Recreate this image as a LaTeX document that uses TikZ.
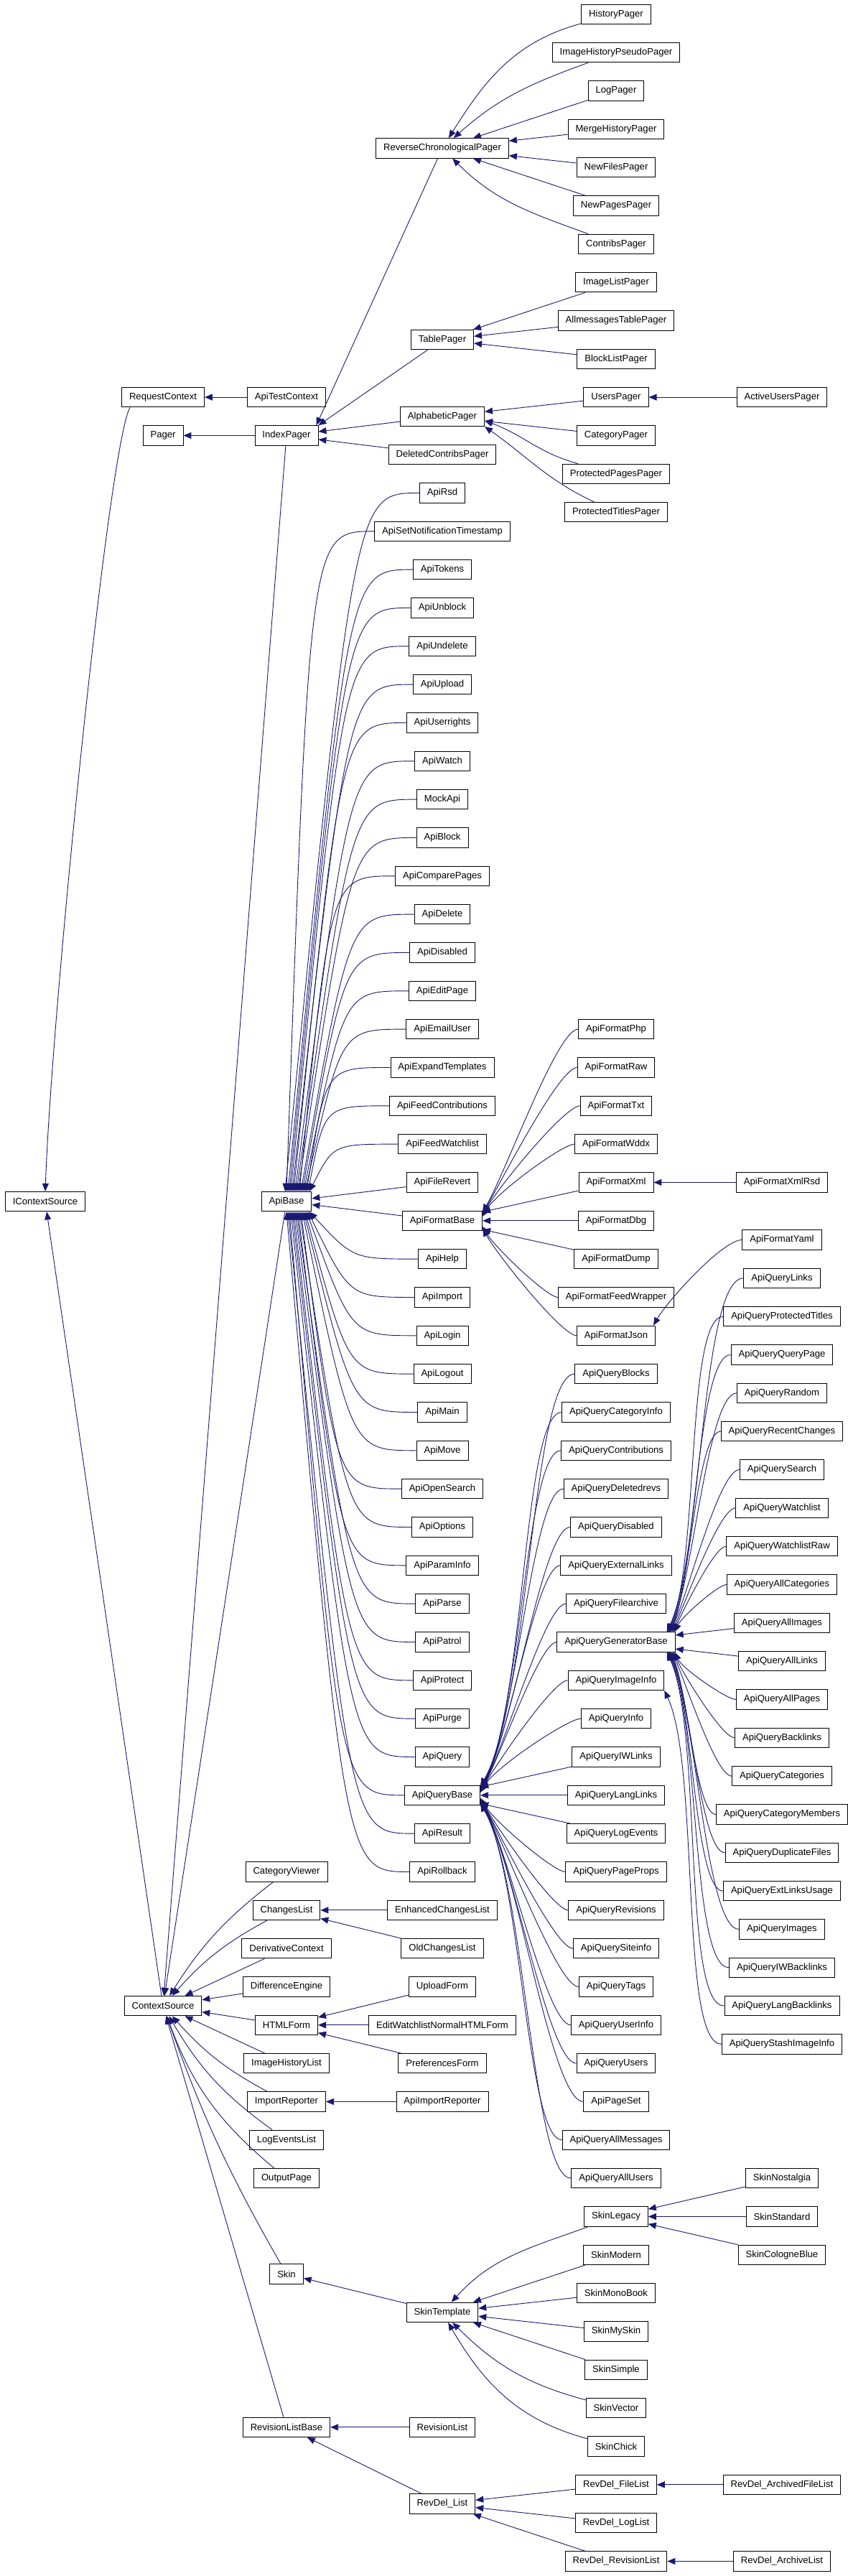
\documentclass[tikz,border=0pt]{standalone}
\usepackage{fontspec}
\setmainfont{Liberation Sans}
\usepackage{tikz}
\usetikzlibrary{arrows.meta}

\definecolor{edgeblue}{HTML}{191970}
\newcommand{\clsfont}{\fontsize{3.275pt}{3.75pt}\selectfont}

\tikzset{
  cls/.style={draw=black, fill=white, line width=0.225pt, minimum height=6.875pt, inner xsep=2.625pt, inner ysep=0.5pt, font=\clsfont},
  inh/.style={draw=edgeblue, line width=0.225pt, -{Triangle[length=2.75pt,width=2.25pt]}},
  qfan/.style={out=180, in=60, out looseness=0.26, in looseness=0.6},
  qfanb/.style={out=180, in=-60, out looseness=0.26, in looseness=0.6},
  gfan/.style={out=180, in=65, out looseness=0.3, in looseness=0.6},
  gfanb/.style={out=180, in=-65, out looseness=0.3, in looseness=0.6}
}

\begin{document}
\begin{tikzpicture}[x=0.25pt, y=6.66675pt]
  \useasboundingbox[fill=white] (0,0.7425) rectangle (1181,-133.77);

  % roots
  \node[cls] (IContextSource) at (63,-62) {IContextSource};
  \node[cls] (RequestContext) at (227,-20) {RequestContext};
  \node[cls] (Pager) at (227,-22) {Pager};
  \node[cls] (ContextSource) at (227,-104) {ContextSource};

  % second rank
  \node[cls] (ApiTestContext) at (399,-20) {ApiTestContext};
  \node[cls] (IndexPager) at (399,-22) {IndexPager};
  \node[cls] (ApiBase) at (399,-62) {ApiBase};
  \node[cls] (CategoryViewer) at (399,-97) {CategoryViewer};
  \node[cls] (ChangesList) at (399,-99) {ChangesList};
  \node[cls] (DerivativeContext) at (399,-101) {DerivativeContext};
  \node[cls] (DifferenceEngine) at (399,-103) {DifferenceEngine};
  \node[cls] (HTMLForm) at (399,-105) {HTMLForm};
  \node[cls] (ImageHistoryList) at (399,-107) {ImageHistoryList};
  \node[cls] (ImportReporter) at (399,-109) {ImportReporter};
  \node[cls] (LogEventsList) at (399,-111) {LogEventsList};
  \node[cls] (OutputPage) at (399,-113) {OutputPage};
  \node[cls] (Skin) at (399,-118) {Skin};
  \node[cls] (RevisionListBase) at (399,-126) {RevisionListBase};

  % third rank
  \node[cls] (ReverseChronologicalPager) at (616,-7) {ReverseChronologicalPager};
  \node[cls] (TablePager) at (616,-17) {TablePager};
  \node[cls] (AlphabeticPager) at (616,-21) {AlphabeticPager};
  \node[cls] (DeletedContribsPager) at (616,-23) {DeletedContribsPager};
  \node[cls] (ApiRsd) at (616,-25) {ApiRsd};
  \node[cls] (ApiSetNotificationTimestamp) at (616,-27) {ApiSetNotificationTimestamp};
  \node[cls] (ApiTokens) at (616,-29) {ApiTokens};
  \node[cls] (ApiUnblock) at (616,-31) {ApiUnblock};
  \node[cls] (ApiUndelete) at (616,-33) {ApiUndelete};
  \node[cls] (ApiUpload) at (616,-35) {ApiUpload};
  \node[cls] (ApiUserrights) at (616,-37) {ApiUserrights};
  \node[cls] (ApiWatch) at (616,-39) {ApiWatch};
  \node[cls] (MockApi) at (616,-41) {MockApi};
  \node[cls] (ApiBlock) at (616,-43) {ApiBlock};
  \node[cls] (ApiComparePages) at (616,-45) {ApiComparePages};
  \node[cls] (ApiDelete) at (616,-47) {ApiDelete};
  \node[cls] (ApiDisabled) at (616,-49) {ApiDisabled};
  \node[cls] (ApiEditPage) at (616,-51) {ApiEditPage};
  \node[cls] (ApiEmailUser) at (616,-53) {ApiEmailUser};
  \node[cls] (ApiExpandTemplates) at (616,-55) {ApiExpandTemplates};
  \node[cls] (ApiFeedContributions) at (616,-57) {ApiFeedContributions};
  \node[cls] (ApiFeedWatchlist) at (616,-59) {ApiFeedWatchlist};
  \node[cls] (ApiFileRevert) at (616,-61) {ApiFileRevert};
  \node[cls] (ApiFormatBase) at (616,-63) {ApiFormatBase};
  \node[cls] (ApiHelp) at (616,-65) {ApiHelp};
  \node[cls] (ApiImport) at (616,-67) {ApiImport};
  \node[cls] (ApiLogin) at (616,-69) {ApiLogin};
  \node[cls] (ApiLogout) at (616,-71) {ApiLogout};
  \node[cls] (ApiMain) at (616,-73) {ApiMain};
  \node[cls] (ApiMove) at (616,-75) {ApiMove};
  \node[cls] (ApiOpenSearch) at (616,-77) {ApiOpenSearch};
  \node[cls] (ApiOptions) at (616,-79) {ApiOptions};
  \node[cls] (ApiParamInfo) at (616,-81) {ApiParamInfo};
  \node[cls] (ApiParse) at (616,-83) {ApiParse};
  \node[cls] (ApiPatrol) at (616,-85) {ApiPatrol};
  \node[cls] (ApiProtect) at (616,-87) {ApiProtect};
  \node[cls] (ApiPurge) at (616,-89) {ApiPurge};
  \node[cls] (ApiQuery) at (616,-91) {ApiQuery};
  \node[cls] (ApiQueryBase) at (616,-93) {ApiQueryBase};
  \node[cls] (ApiResult) at (616,-95) {ApiResult};
  \node[cls] (ApiRollback) at (616,-97) {ApiRollback};
  \node[cls] (EnhancedChangesList) at (616,-99) {EnhancedChangesList};
  \node[cls] (OldChangesList) at (616,-101) {OldChangesList};
  \node[cls] (UploadForm) at (616,-103) {UploadForm};
  \node[cls] (EditWatchlistNormalHTMLForm) at (616,-105) {EditWatchlistNormalHTMLForm};
  \node[cls] (PreferencesForm) at (616,-107) {PreferencesForm};
  \node[cls] (ApiImportReporter) at (616,-109) {ApiImportReporter};
  \node[cls] (SkinTemplate) at (616,-120) {SkinTemplate};
  \node[cls] (RevisionList) at (616,-126) {RevisionList};
  \node[cls] (RevDelList) at (616,-130) {RevDel\_List};

  % fourth rank
  \node[cls] (HistoryPager) at (858,0) {HistoryPager};
  \node[cls] (ImageHistoryPseudoPager) at (858,-2) {ImageHistoryPseudoPager};
  \node[cls] (LogPager) at (858,-4) {LogPager};
  \node[cls] (MergeHistoryPager) at (858,-6) {MergeHistoryPager};
  \node[cls] (NewFilesPager) at (858,-8) {NewFilesPager};
  \node[cls] (NewPagesPager) at (858,-10) {NewPagesPager};
  \node[cls] (ContribsPager) at (858,-12) {ContribsPager};
  \node[cls] (ImageListPager) at (858,-14) {ImageListPager};
  \node[cls] (AllmessagesTablePager) at (858,-16) {AllmessagesTablePager};
  \node[cls] (BlockListPager) at (858,-18) {BlockListPager};
  \node[cls] (UsersPager) at (858,-20) {UsersPager};
  \node[cls] (CategoryPager) at (858,-22) {CategoryPager};
  \node[cls] (ProtectedPagesPager) at (858,-24) {ProtectedPagesPager};
  \node[cls] (ProtectedTitlesPager) at (858,-26) {ProtectedTitlesPager};
  \node[cls] (ApiFormatPhp) at (858,-53) {ApiFormatPhp};
  \node[cls] (ApiFormatRaw) at (858,-55) {ApiFormatRaw};
  \node[cls] (ApiFormatTxt) at (858,-57) {ApiFormatTxt};
  \node[cls] (ApiFormatWddx) at (858,-59) {ApiFormatWddx};
  \node[cls] (ApiFormatXml) at (858,-61) {ApiFormatXml};
  \node[cls] (ApiFormatDbg) at (858,-63) {ApiFormatDbg};
  \node[cls] (ApiFormatDump) at (858,-65) {ApiFormatDump};
  \node[cls] (ApiFormatFeedWrapper) at (858,-67) {ApiFormatFeedWrapper};
  \node[cls] (ApiFormatJson) at (858,-69) {ApiFormatJson};
  \node[cls] (ApiQueryBlocks) at (858,-71) {ApiQueryBlocks};
  \node[cls] (ApiQueryCategoryInfo) at (858,-73) {ApiQueryCategoryInfo};
  \node[cls] (ApiQueryContributions) at (858,-75) {ApiQueryContributions};
  \node[cls] (ApiQueryDeletedrevs) at (858,-77) {ApiQueryDeletedrevs};
  \node[cls] (ApiQueryDisabled) at (858,-79) {ApiQueryDisabled};
  \node[cls] (ApiQueryExternalLinks) at (858,-81) {ApiQueryExternalLinks};
  \node[cls] (ApiQueryFilearchive) at (858,-83) {ApiQueryFilearchive};
  \node[cls] (ApiQueryGeneratorBase) at (858,-85) {ApiQueryGeneratorBase};
  \node[cls] (ApiQueryImageInfo) at (858,-87) {ApiQueryImageInfo};
  \node[cls] (ApiQueryInfo) at (858,-89) {ApiQueryInfo};
  \node[cls] (ApiQueryIWLinks) at (858,-91) {ApiQueryIWLinks};
  \node[cls] (ApiQueryLangLinks) at (858,-93) {ApiQueryLangLinks};
  \node[cls] (ApiQueryLogEvents) at (858,-95) {ApiQueryLogEvents};
  \node[cls] (ApiQueryPageProps) at (858,-97) {ApiQueryPageProps};
  \node[cls] (ApiQueryRevisions) at (858,-99) {ApiQueryRevisions};
  \node[cls] (ApiQuerySiteinfo) at (858,-101) {ApiQuerySiteinfo};
  \node[cls] (ApiQueryTags) at (858,-103) {ApiQueryTags};
  \node[cls] (ApiQueryUserInfo) at (858,-105) {ApiQueryUserInfo};
  \node[cls] (ApiQueryUsers) at (858,-107) {ApiQueryUsers};
  \node[cls] (ApiPageSet) at (858,-109) {ApiPageSet};
  \node[cls] (ApiQueryAllMessages) at (858,-111) {ApiQueryAllMessages};
  \node[cls] (ApiQueryAllUsers) at (858,-113) {ApiQueryAllUsers};
  \node[cls] (SkinLegacy) at (858,-115) {SkinLegacy};
  \node[cls] (SkinModern) at (858,-117) {SkinModern};
  \node[cls] (SkinMonoBook) at (858,-119) {SkinMonoBook};
  \node[cls] (SkinMySkin) at (858,-121) {SkinMySkin};
  \node[cls] (SkinSimple) at (858,-123) {SkinSimple};
  \node[cls] (SkinVector) at (858,-125) {SkinVector};
  \node[cls] (SkinChick) at (858,-127) {SkinChick};
  \node[cls] (RevDelFileList) at (858,-129) {RevDel\_FileList};
  \node[cls] (RevDelLogList) at (858,-131) {RevDel\_LogList};
  \node[cls] (RevDelRevisionList) at (858,-133) {RevDel\_RevisionList};

  % fifth rank
  \node[cls] (ActiveUsersPager) at (1089,-20) {ActiveUsersPager};
  \node[cls] (ApiFormatXmlRsd) at (1089,-61) {ApiFormatXmlRsd};
  \node[cls] (ApiFormatYaml) at (1089,-64) {ApiFormatYaml};
  \node[cls] (ApiQueryLinks) at (1089,-66) {ApiQueryLinks};
  \node[cls] (ApiQueryProtectedTitles) at (1089,-68) {ApiQueryProtectedTitles};
  \node[cls] (ApiQueryQueryPage) at (1089,-70) {ApiQueryQueryPage};
  \node[cls] (ApiQueryRandom) at (1089,-72) {ApiQueryRandom};
  \node[cls] (ApiQueryRecentChanges) at (1089,-74) {ApiQueryRecentChanges};
  \node[cls] (ApiQuerySearch) at (1089,-76) {ApiQuerySearch};
  \node[cls] (ApiQueryWatchlist) at (1089,-78) {ApiQueryWatchlist};
  \node[cls] (ApiQueryWatchlistRaw) at (1089,-80) {ApiQueryWatchlistRaw};
  \node[cls] (ApiQueryAllCategories) at (1089,-82) {ApiQueryAllCategories};
  \node[cls] (ApiQueryAllImages) at (1089,-84) {ApiQueryAllImages};
  \node[cls] (ApiQueryAllLinks) at (1089,-86) {ApiQueryAllLinks};
  \node[cls] (ApiQueryAllPages) at (1089,-88) {ApiQueryAllPages};
  \node[cls] (ApiQueryBacklinks) at (1089,-90) {ApiQueryBacklinks};
  \node[cls] (ApiQueryCategories) at (1089,-92) {ApiQueryCategories};
  \node[cls] (ApiQueryCategoryMembers) at (1089,-94) {ApiQueryCategoryMembers};
  \node[cls] (ApiQueryDuplicateFiles) at (1089,-96) {ApiQueryDuplicateFiles};
  \node[cls] (ApiQueryExtLinksUsage) at (1089,-98) {ApiQueryExtLinksUsage};
  \node[cls] (ApiQueryImages) at (1089,-100) {ApiQueryImages};
  \node[cls] (ApiQueryIWBacklinks) at (1089,-102) {ApiQueryIWBacklinks};
  \node[cls] (ApiQueryLangBacklinks) at (1089,-104) {ApiQueryLangBacklinks};
  \node[cls] (ApiQueryStashImageInfo) at (1089,-106) {ApiQueryStashImageInfo};
  \node[cls] (SkinNostalgia) at (1089,-113) {SkinNostalgia};
  \node[cls] (SkinStandard) at (1089,-115) {SkinStandard};
  \node[cls] (SkinCologneBlue) at (1089,-117) {SkinCologneBlue};
  \node[cls] (RevDelArchivedFileList) at (1089,-129) {RevDel\_ArchivedFileList};
  \node[cls] (RevDelArchiveList) at (1089,-133) {RevDel\_ArchiveList};

  % context and pager roots
  \draw[inh] ([xshift=3pt]RequestContext.south west) .. controls +(-120:15pt) and +(88:62.5pt) .. (IContextSource.north);
  \draw[inh] (ContextSource) -- (IContextSource);
  \draw[inh] (ApiTestContext) -- (RequestContext);
  \draw[inh] (IndexPager) -- (Pager);
  \draw[inh] (IndexPager) -- (ContextSource);
  \draw[inh] (ApiBase) -- (ContextSource);
  \draw[inh] (CategoryViewer) to[bend right=10] (ContextSource);
  \draw[inh] (ChangesList) to[bend right=10] (ContextSource);
  \draw[inh] (DerivativeContext) -- (ContextSource);
  \draw[inh] (DifferenceEngine) -- (ContextSource);
  \draw[inh] (HTMLForm) -- (ContextSource);
  \draw[inh] (ImageHistoryList) -- (ContextSource);
  \draw[inh] (ImportReporter) to[bend left=10] (ContextSource);
  \draw[inh] (LogEventsList) to[bend left=12] (ContextSource);
  \draw[inh] (OutputPage) to[bend left=15] (ContextSource);
  \draw[inh] (Skin) to[bend left=5] (ContextSource);
  \draw[inh] (RevisionListBase) -- (ContextSource);

  % pagers
  \draw[inh] (ReverseChronologicalPager) -- ([xshift=-0.75pt]IndexPager.north east);
  \draw[inh] (TablePager) -- (IndexPager.north east);
  \draw[inh] (AlphabeticPager) -- (IndexPager);
  \draw[inh] (DeletedContribsPager) -- (IndexPager);
  \draw[inh] (HistoryPager) to[out=195,in=58] (ReverseChronologicalPager);
  \draw[inh] (ImageHistoryPseudoPager) to[out=200,in=42] (ReverseChronologicalPager);
  \draw[inh] (LogPager) -- (ReverseChronologicalPager);
  \draw[inh] (MergeHistoryPager) -- (ReverseChronologicalPager);
  \draw[inh] (NewFilesPager) -- (ReverseChronologicalPager);
  \draw[inh] (NewPagesPager) -- (ReverseChronologicalPager);
  \draw[inh] (ContribsPager) to[out=160,in=-45] (ReverseChronologicalPager);
  \draw[inh] (ImageListPager) -- (TablePager);
  \draw[inh] (AllmessagesTablePager) -- (TablePager);
  \draw[inh] (BlockListPager) -- (TablePager);
  \draw[inh] (UsersPager) -- (AlphabeticPager);
  \draw[inh] (CategoryPager) -- (AlphabeticPager);
  \draw[inh] (ProtectedPagesPager) to[out=165,in=-20] ([yshift=-1.5pt]AlphabeticPager.east);
  \draw[inh] (ProtectedTitlesPager) to[out=155,in=-35] (AlphabeticPager.south east);
  \draw[inh] (ActiveUsersPager) -- (UsersPager);

  % api modules
  \draw[inh] (ApiRsd.west) .. controls +(-90,0) .. ([xshift=-0.5pt]ApiBase.north);
  \draw[inh] (ApiSetNotificationTimestamp.west) .. controls +(-90,0) .. ([xshift=0pt]ApiBase.north);
  \draw[inh] (ApiTokens.west) .. controls +(-90,0) .. ([xshift=0.5pt]ApiBase.north);
  \draw[inh] (ApiUnblock.west) .. controls +(-90,0) .. ([xshift=1pt]ApiBase.north);
  \draw[inh] (ApiUndelete.west) .. controls +(-90,0) .. ([xshift=1.5pt]ApiBase.north);
  \draw[inh] (ApiUpload.west) .. controls +(-90,0) .. ([xshift=2pt]ApiBase.north);
  \draw[inh] (ApiUserrights.west) .. controls +(-90,0) .. ([xshift=2.5pt]ApiBase.north);
  \draw[inh] (ApiWatch.west) .. controls +(-90,0) .. ([xshift=3pt]ApiBase.north);
  \draw[inh] (MockApi.west) .. controls +(-90,0) .. ([xshift=3.5pt]ApiBase.north);
  \draw[inh] (ApiBlock.west) .. controls +(-90,0) .. ([xshift=4pt]ApiBase.north);
  \draw[inh] (ApiComparePages.west) .. controls +(-90,0) .. ([xshift=4.5pt]ApiBase.north);
  \draw[inh] (ApiDelete.west) .. controls +(-90,0) .. ([xshift=5pt]ApiBase.north);
  \draw[inh] (ApiDisabled.west) .. controls +(-90,0) .. ([xshift=5.5pt]ApiBase.north);
  \draw[inh] (ApiEditPage.west) .. controls +(-90,0) .. ([xshift=6pt]ApiBase.north);
  \draw[inh] (ApiEmailUser.west) .. controls +(-90,0) .. ([xshift=6.5pt]ApiBase.north);
  \draw[inh] (ApiExpandTemplates.west) .. controls +(-90,0) .. ([xshift=7pt]ApiBase.north);
  \draw[inh] (ApiFeedContributions.west) .. controls +(-90,0) .. ([xshift=7.5pt]ApiBase.north);
  \draw[inh] (ApiFeedWatchlist.west) .. controls +(-90,0) .. ([xshift=8pt]ApiBase.north);
  \draw[inh] (ApiFileRevert) -- (ApiBase);
  \draw[inh] (ApiFormatBase) -- (ApiBase);
  \draw[inh] (ApiHelp.west) .. controls +(-90,0) .. ([xshift=8pt]ApiBase.south);
  \draw[inh] (ApiImport.west) .. controls +(-90,0) .. ([xshift=7.5pt]ApiBase.south);
  \draw[inh] (ApiLogin.west) .. controls +(-90,0) .. ([xshift=7pt]ApiBase.south);
  \draw[inh] (ApiLogout.west) .. controls +(-90,0) .. ([xshift=6.5pt]ApiBase.south);
  \draw[inh] (ApiMain.west) .. controls +(-90,0) .. ([xshift=6pt]ApiBase.south);
  \draw[inh] (ApiMove.west) .. controls +(-90,0) .. ([xshift=5.5pt]ApiBase.south);
  \draw[inh] (ApiOpenSearch.west) .. controls +(-90,0) .. ([xshift=5pt]ApiBase.south);
  \draw[inh] (ApiOptions.west) .. controls +(-90,0) .. ([xshift=4.5pt]ApiBase.south);
  \draw[inh] (ApiParamInfo.west) .. controls +(-90,0) .. ([xshift=4pt]ApiBase.south);
  \draw[inh] (ApiParse.west) .. controls +(-90,0) .. ([xshift=3.5pt]ApiBase.south);
  \draw[inh] (ApiPatrol.west) .. controls +(-90,0) .. ([xshift=3pt]ApiBase.south);
  \draw[inh] (ApiProtect.west) .. controls +(-90,0) .. ([xshift=2.5pt]ApiBase.south);
  \draw[inh] (ApiPurge.west) .. controls +(-90,0) .. ([xshift=2pt]ApiBase.south);
  \draw[inh] (ApiQuery.west) .. controls +(-90,0) .. ([xshift=1.5pt]ApiBase.south);
  \draw[inh] (ApiQueryBase.west) .. controls +(-90,0) .. ([xshift=1pt]ApiBase.south);
  \draw[inh] (ApiResult.west) .. controls +(-90,0) .. ([xshift=0.5pt]ApiBase.south);
  \draw[inh] (ApiRollback.west) .. controls +(-90,0) .. ([xshift=0pt]ApiBase.south);

  % formats
  \draw[inh] (ApiFormatPhp.west) to[qfan] ([yshift=3pt]ApiFormatBase.east);
  \draw[inh] (ApiFormatRaw.west) to[qfan] ([yshift=2.5pt]ApiFormatBase.east);
  \draw[inh] (ApiFormatTxt.west) to[qfan] ([yshift=2pt]ApiFormatBase.east);
  \draw[inh] (ApiFormatWddx.west) to[qfan] ([yshift=1.5pt]ApiFormatBase.east);
  \draw[inh] (ApiFormatXml) -- (ApiFormatBase);
  \draw[inh] (ApiFormatDbg) -- (ApiFormatBase);
  \draw[inh] (ApiFormatDump) -- (ApiFormatBase);
  \draw[inh] (ApiFormatFeedWrapper.west) to[qfanb] ([yshift=-2pt]ApiFormatBase.east);
  \draw[inh] (ApiFormatJson.west) to[qfanb] ([yshift=-2.75pt]ApiFormatBase.east);
  \draw[inh] (ApiFormatXmlRsd) -- (ApiFormatXml);
  \draw[inh] (ApiFormatYaml.west) to[out=180,in=60,out looseness=0.4,in looseness=0.6] ([xshift=-0.75pt]ApiFormatJson.north east);

  % query modules
  \draw[inh] (ApiQueryBlocks.west) to[qfan] ([yshift=3.25pt]ApiQueryBase.east);
  \draw[inh] (ApiQueryCategoryInfo.west) to[qfan] ([yshift=3pt]ApiQueryBase.east);
  \draw[inh] (ApiQueryContributions.west) to[qfan] ([yshift=2.75pt]ApiQueryBase.east);
  \draw[inh] (ApiQueryDeletedrevs.west) to[qfan] ([yshift=2.5pt]ApiQueryBase.east);
  \draw[inh] (ApiQueryDisabled.west) to[qfan] ([yshift=2.25pt]ApiQueryBase.east);
  \draw[inh] (ApiQueryExternalLinks.west) to[qfan] ([yshift=2pt]ApiQueryBase.east);
  \draw[inh] (ApiQueryFilearchive.west) to[qfan] ([yshift=1.75pt]ApiQueryBase.east);
  \draw[inh] (ApiQueryGeneratorBase.west) to[qfan] ([yshift=1.5pt]ApiQueryBase.east);
  \draw[inh] (ApiQueryImageInfo.west) to[qfan] ([yshift=1.25pt]ApiQueryBase.east);
  \draw[inh] (ApiQueryInfo.west) to[qfan] ([yshift=1pt]ApiQueryBase.east);
  \draw[inh] (ApiQueryIWLinks) -- (ApiQueryBase);
  \draw[inh] (ApiQueryLangLinks) -- (ApiQueryBase);
  \draw[inh] (ApiQueryLogEvents) -- (ApiQueryBase);
  \draw[inh] (ApiQueryPageProps.west) to[qfanb] ([yshift=-1pt]ApiQueryBase.east);
  \draw[inh] (ApiQueryRevisions.west) to[qfanb] ([yshift=-1.25pt]ApiQueryBase.east);
  \draw[inh] (ApiQuerySiteinfo.west) to[qfanb] ([yshift=-1.5pt]ApiQueryBase.east);
  \draw[inh] (ApiQueryTags.west) to[qfanb] ([yshift=-1.75pt]ApiQueryBase.east);
  \draw[inh] (ApiQueryUserInfo.west) to[qfanb] ([yshift=-2pt]ApiQueryBase.east);
  \draw[inh] (ApiQueryUsers.west) to[qfanb] ([yshift=-2.25pt]ApiQueryBase.east);
  \draw[inh] (ApiPageSet.west) to[qfanb] ([yshift=-2.5pt]ApiQueryBase.east);
  \draw[inh] (ApiQueryAllMessages.west) to[qfanb] ([yshift=-2.75pt]ApiQueryBase.east);
  \draw[inh] (ApiQueryAllUsers.west) to[qfanb] ([yshift=-3pt]ApiQueryBase.east);

  % generator modules
  \draw[inh] (ApiQueryLinks.west) to[gfan] ([xshift=-3pt]ApiQueryGeneratorBase.north east);
  \draw[inh] (ApiQueryProtectedTitles.west) to[gfan] ([xshift=-2.75pt]ApiQueryGeneratorBase.north east);
  \draw[inh] (ApiQueryQueryPage.west) to[gfan] ([xshift=-2.5pt]ApiQueryGeneratorBase.north east);
  \draw[inh] (ApiQueryRandom.west) to[gfan] ([xshift=-2.25pt]ApiQueryGeneratorBase.north east);
  \draw[inh] (ApiQueryRecentChanges.west) to[gfan] ([xshift=-2pt]ApiQueryGeneratorBase.north east);
  \draw[inh] (ApiQuerySearch.west) to[gfan] ([xshift=-1.75pt]ApiQueryGeneratorBase.north east);
  \draw[inh] (ApiQueryWatchlist.west) to[gfan] ([xshift=-1.25pt]ApiQueryGeneratorBase.north east);
  \draw[inh] (ApiQueryWatchlistRaw.west) to[gfan] ([xshift=-0.75pt]ApiQueryGeneratorBase.north east);
  \draw[inh] (ApiQueryAllCategories.west) to[gfan] ([xshift=-0.25pt]ApiQueryGeneratorBase.north east);
  \draw[inh] (ApiQueryAllImages) -- (ApiQueryGeneratorBase);
  \draw[inh] (ApiQueryAllLinks) -- (ApiQueryGeneratorBase);
  \draw[inh] (ApiQueryAllPages.west) to[gfanb] ([xshift=-0.25pt]ApiQueryGeneratorBase.south east);
  \draw[inh] (ApiQueryBacklinks.west) to[gfanb] ([xshift=-0.75pt]ApiQueryGeneratorBase.south east);
  \draw[inh] (ApiQueryCategories.west) to[gfanb] ([xshift=-1.25pt]ApiQueryGeneratorBase.south east);
  \draw[inh] (ApiQueryCategoryMembers.west) to[gfanb] ([xshift=-1.75pt]ApiQueryGeneratorBase.south east);
  \draw[inh] (ApiQueryDuplicateFiles.west) to[gfanb] ([xshift=-2pt]ApiQueryGeneratorBase.south east);
  \draw[inh] (ApiQueryExtLinksUsage.west) to[gfanb] ([xshift=-2.25pt]ApiQueryGeneratorBase.south east);
  \draw[inh] (ApiQueryImages.west) to[gfanb] ([xshift=-2.5pt]ApiQueryGeneratorBase.south east);
  \draw[inh] (ApiQueryIWBacklinks.west) to[gfanb] ([xshift=-2.75pt]ApiQueryGeneratorBase.south east);
  \draw[inh] (ApiQueryLangBacklinks.west) to[gfanb] ([xshift=-3pt]ApiQueryGeneratorBase.south east);
  \draw[inh] (ApiQueryStashImageInfo.west) to[out=180,in=-65,out looseness=0.3,in looseness=0.6] (ApiQueryImageInfo.south east);

  % lists and forms
  \draw[inh] (EnhancedChangesList) -- (ChangesList);
  \draw[inh] (OldChangesList) -- (ChangesList);
  \draw[inh] (UploadForm) -- (HTMLForm);
  \draw[inh] (EditWatchlistNormalHTMLForm) -- (HTMLForm);
  \draw[inh] (PreferencesForm) -- (HTMLForm);
  \draw[inh] (ApiImportReporter) -- (ImportReporter);

  % skins
  \draw[inh] (SkinTemplate) -- (Skin);
  \draw[inh] (SkinLegacy) to[out=200,in=48] (SkinTemplate);
  \draw[inh] (SkinModern) -- (SkinTemplate);
  \draw[inh] (SkinMonoBook) -- (SkinTemplate);
  \draw[inh] (SkinMySkin) -- (SkinTemplate);
  \draw[inh] (SkinSimple) -- (SkinTemplate);
  \draw[inh] (SkinVector) to[out=165,in=-45] (SkinTemplate);
  \draw[inh] (SkinChick) to[out=165,in=-60] (SkinTemplate);
  \draw[inh] (SkinNostalgia) -- (SkinLegacy);
  \draw[inh] (SkinStandard) -- (SkinLegacy);
  \draw[inh] (SkinCologneBlue) -- (SkinLegacy);

  % revision lists
  \draw[inh] (RevisionList) -- (RevisionListBase);
  \draw[inh] (RevDelList) -- (RevisionListBase);
  \draw[inh] (RevDelFileList) -- (RevDelList);
  \draw[inh] (RevDelLogList) -- (RevDelList);
  \draw[inh] (RevDelRevisionList) -- (RevDelList);
  \draw[inh] (RevDelArchivedFileList) -- (RevDelFileList);
  \draw[inh] (RevDelArchiveList) -- (RevDelRevisionList);
\end{tikzpicture}
\end{document}
